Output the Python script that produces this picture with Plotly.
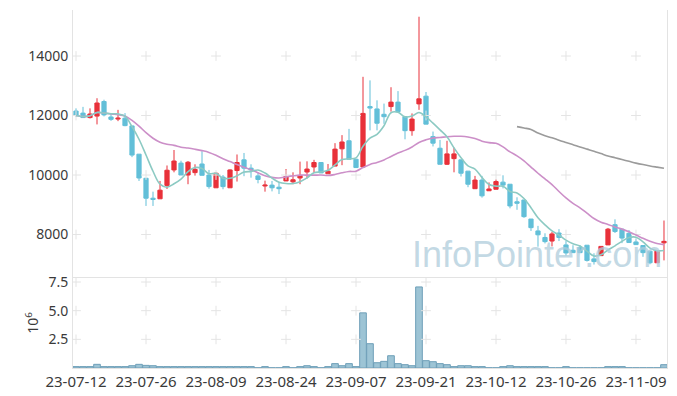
import pandas as pd
import plotly.graph_objects as go

# ---------------- data ----------------
dates = [
    "23-07-12", "23-07-13", "23-07-14", "23-07-17", "23-07-18", "23-07-19", "23-07-20", "23-07-21",
    "23-07-24", "23-07-25", "23-07-26", "23-07-27", "23-07-28", "23-07-31",
    "23-08-01", "23-08-02", "23-08-03", "23-08-04", "23-08-07", "23-08-08", "23-08-09", "23-08-10",
    "23-08-11", "23-08-14", "23-08-16", "23-08-17", "23-08-18", "23-08-21", "23-08-22", "23-08-23",
    "23-08-24", "23-08-25", "23-08-28", "23-08-29", "23-08-30", "23-08-31",
    "23-09-01", "23-09-04", "23-09-05", "23-09-06", "23-09-07", "23-09-08", "23-09-11", "23-09-12",
    "23-09-13", "23-09-14", "23-09-15", "23-09-18", "23-09-19", "23-09-20", "23-09-21", "23-09-22",
    "23-09-25", "23-09-26", "23-09-27",
    "23-10-04", "23-10-05", "23-10-06", "23-10-10", "23-10-11", "23-10-12", "23-10-13", "23-10-16",
    "23-10-17", "23-10-18", "23-10-19", "23-10-20", "23-10-23", "23-10-24", "23-10-25", "23-10-26",
    "23-10-27", "23-10-30", "23-10-31",
    "23-11-01", "23-11-02", "23-11-03", "23-11-06", "23-11-07", "23-11-08", "23-11-09", "23-11-10",
    "23-11-13", "23-11-14", "23-11-15",
]

open_p = [12150, 12080, 11930, 11980, 12470, 11950, 11880, 11910, 11650, 10700,
          9890, 9220, 9200, 9650, 10170, 10400, 10000, 10080, 10370, 10000,
          9570, 9930, 9570, 10150, 10510, 10230, 9970, 9630, 9660, 9590,
          9800, 9770, 9900, 10100, 10270, 10420, 10040, 10300, 10880, 11150,
          10530, 10270, 12300, 12220, 12040, 12300, 12450, 11960, 11490, 12390,
          12650, 11290, 10900, 10360, 10550, 10510, 10130, 9540, 9830, 9470,
          9520, 9760, 9690, 9100, 9160, 8520, 8120, 7900, 7780, 8050,
          7650, 7470, 7570, 7640, 7180, 7290, 7650, 8330, 8180, 8040,
          7750, 7630, 7440, 7050, 7720]
high_p = [12240, 12290, 12240, 12580, 12530, 12080, 12190, 12080, 11650, 10700,
          9890, 9440, 9800, 10320, 10840, 10480, 10470, 10360, 10800, 10170,
          10080, 10000, 10190, 10690, 10740, 10360, 10080, 9810, 9800, 9770,
          10200, 10090, 10450, 10460, 10510, 10420, 10370, 11070, 11340, 11550,
          10530, 13300, 13180, 12510, 12400, 12950, 12820, 11960, 12070, 15320,
          12790, 11460, 11180, 11150, 10920, 10510, 10130, 9970, 9970, 9750,
          9850, 9990, 9690, 9250, 9160, 8520, 8290, 8040, 8090, 8180,
          7780, 7640, 7640, 7640, 7370, 7600, 8220, 8510, 8180, 8150,
          7870, 7630, 7440, 7440, 8470]
low_p = [11960, 11920, 11900, 11700, 11970, 11820, 11810, 11640, 10600, 9800,
         8960, 8960, 9200, 9530, 10090, 10000, 9690, 9980, 9990, 9540,
         9570, 9520, 9570, 9780, 9960, 9910, 9720, 9440, 9450, 9360,
         9800, 9690, 9690, 9880, 10080, 10070, 10040, 10300, 10330, 10530,
         10250, 10270, 11500, 11500, 11720, 12130, 12130, 11200, 11320, 12190,
         11710, 10960, 10360, 10340, 10090, 9950, 9590, 9540, 9240, 9470,
         9520, 9550, 8880, 8830, 8560, 8120, 7590, 7700, 7600, 7780,
         7290, 7390, 7390, 7090, 6990, 7290, 7650, 8050, 7710, 7730,
         7660, 7250, 7000, 7050, 7130]
close_p = [12000, 11930, 12050, 12420, 12020, 11870, 11910, 11660, 10670, 9900,
           9220, 9180, 9490, 10160, 10470, 10000, 10430, 10190, 9990, 9610,
           10060, 9610, 10170, 10420, 10230, 10170, 9850, 9660, 9570, 9540,
           9950, 9840, 9980, 10200, 10420, 10070, 10130, 10870, 11110, 10530,
           10250, 12070, 12250, 11740, 11960, 12450, 12130, 11490, 11880, 12560,
           11710, 11070, 10360, 10710, 10710, 10060, 9690, 9830, 9300, 9530,
           9780, 9660, 8960, 9050, 8600, 8230, 7990, 7760, 8020, 7900,
           7380, 7390, 7390, 7130, 7090, 7600, 8180, 8100, 7880, 7730,
           7660, 7390, 7050, 7440, 7770]

# volume in millions of shares
volume_m = [0.12, 0.12, 0.12, 0.32, 0.12, 0.12, 0.12, 0.12, 0.20, 0.32,
            0.23, 0.20, 0.12, 0.12, 0.12, 0.12, 0.12, 0.12, 0.12, 0.12,
            0.12, 0.12, 0.12, 0.12, 0.12, 0.12, 0.02, 0.12, 0.02, 0.02,
            0.12, 0.02, 0.12, 0.20, 0.12, 0.02, 0.12, 0.38, 0.20, 0.38,
            0.12, 4.81, 2.12, 0.46, 0.58, 1.07, 0.38, 0.29, 0.20, 7.07,
            0.64, 0.55, 0.38, 0.29, 0.12, 0.20, 0.20, 0.12, 0.12, 0.02,
            0.02, 0.12, 0.20, 0.12, 0.12, 0.12, 0.12, 0.12, 0.02, 0.02,
            0.12, 0.02, 0.02, 0.02, 0.02, 0.02, 0.12, 0.12, 0.12, 0.02,
            0.02, 0.02, 0.02, 0.02, 0.29]

# long moving average as drawn (starts at the 64th session)
ma60_vals = [11626, 11580, 11530, 11410, 11320, 11250, 11170, 11095, 11020, 10942,
             10870, 10800, 10720, 10640, 10580, 10520, 10460, 10400, 10350, 10305,
             10265, 10226]

price_ticks = [8000, 10000, 12000, 14000]
vol_ticks = [2.5, 5.0, 7.5]
x_ticks = dates[::10]

# ---------------- derived ----------------
closes = pd.Series(close_p)
ma5 = closes.rolling(5, min_periods=1).mean().tolist()
ma20 = closes.rolling(20, min_periods=1).mean().tolist()
ma60 = [None] * (len(dates) - len(ma60_vals)) + ma60_vals

UP = "#e8313a"
DOWN = "#62bfd8"
GRID = "#e4e4e4"
FRAME = "#e3e3e3"
FONT = "Noto Sans"
TXT = "#3a3a3a"

fig = go.Figure()

# grid crosses (at tick intersections)
cross = dict(symbol="cross-thin", size=7, line=dict(color=GRID, width=1))
fig.add_trace(go.Scatter(
    x=[d for d in x_ticks for _ in price_ticks],
    y=[p for _ in x_ticks for p in price_ticks],
    mode="markers", xaxis="x", yaxis="y", marker=cross,
    hoverinfo="skip", showlegend=False))
fig.add_trace(go.Scatter(
    x=[d for d in x_ticks for _ in vol_ticks],
    y=[v for _ in x_ticks for v in vol_ticks],
    mode="markers", xaxis="x", yaxis="y2", marker=cross,
    hoverinfo="skip", showlegend=False))

fig.add_trace(go.Candlestick(
    x=dates, open=open_p, high=high_p, low=low_p, close=close_p,
    increasing=dict(line=dict(color=UP, width=1), fillcolor=UP),
    decreasing=dict(line=dict(color=DOWN, width=1), fillcolor=DOWN),
    xaxis="x", yaxis="y", showlegend=False, name="price"))

fig.add_trace(go.Scatter(x=dates, y=ma20, mode="lines", xaxis="x", yaxis="y",
                         line=dict(color="#cc8fc8", width=1.6, shape="spline"),
                         showlegend=False, name="MA20"))
fig.add_trace(go.Scatter(x=dates, y=ma5, mode="lines", xaxis="x", yaxis="y",
                         line=dict(color="#8ccac3", width=1.6, shape="spline"),
                         showlegend=False, name="MA5"))
fig.add_trace(go.Scatter(x=dates, y=ma60, mode="lines", xaxis="x", yaxis="y",
                         line=dict(color="#9b9b9b", width=1.6, shape="spline"),
                         showlegend=False, name="MA60"))

fig.add_trace(go.Bar(x=dates, y=volume_m, xaxis="x", yaxis="y2",
                     marker=dict(color="#9dc4d5", line=dict(color="#6e9fb8", width=1)),
                     showlegend=False, name="volume"))

split = 90 / 358

fig.update_layout(
    width=677, height=396,
    margin=dict(l=73, r=10, t=10, b=28, autoexpand=False),
    paper_bgcolor="white", plot_bgcolor="white",
    font=dict(family=FONT, size=14, color=TXT),
    boxgap=0.14, bargap=0.05,
    xaxis=dict(type="category", categoryorder="array", categoryarray=dates,
               range=[-0.43, len(dates) - 1 + 0.43], automargin=False,
               tickvals=x_ticks, ticktext=x_ticks, tickangle=0, anchor="y2",
               tickfont=dict(size=15, color=TXT),
               showgrid=False, zeroline=False, showline=True, linecolor=FRAME,
               mirror=True, ticks="", ticklabelstandoff=0,
               rangeslider=dict(visible=False)),
    yaxis=dict(domain=[split, 1], range=[6538, 15546], tickvals=price_ticks,
               ticktext=[str(t) for t in price_ticks], automargin=False,
               tickfont=dict(size=14, color=TXT),
               showgrid=False, zeroline=False, showline=True, linecolor=FRAME,
               mirror=True, ticks="", ticklabelstandoff=1),
    yaxis2=dict(domain=[0, split], range=[0, 7.85], tickvals=vol_ticks,
                ticktext=["2.5", "5.0", "7.5"], automargin=False,
                tickfont=dict(size=14, color=TXT),
                showgrid=False, zeroline=False, showline=True, linecolor=FRAME,
                mirror=True, ticks="", ticklabelstandoff=1,
                title=dict(text="10<sup>6</sup>", standoff=6,
                           font=dict(size=14, color=TXT))),
    annotations=[dict(text="InfoPointer.com", xref="paper", yref="paper",
                      x=0.781, y=0.316, xanchor="center", yanchor="middle",
                      showarrow=False,
                      font=dict(family="Liberation Sans", size=36,
                                color="rgba(175,205,220,0.75)"))],
)

fig.write_html("out.html", config={"displayModeBar": False},
               post_script="document.body.style.margin='0';")
